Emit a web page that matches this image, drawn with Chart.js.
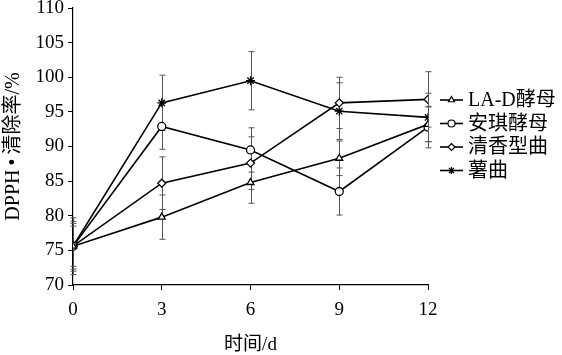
<!DOCTYPE html>
<html>
<head>
<meta charset="utf-8">
<script src="https://cdn.jsdelivr.net/npm/chart.js@4"></script>
<style>
html,body{margin:0;padding:0;background:#fff;}
#wrap{position:relative;width:562px;height:355px;}
</style>
</head>
<body>
<div id="wrap"><canvas id="c" width="562" height="355"></canvas></div>
<script>
const days = [0, 3, 6, 9, 12];
const seriesNames = ['LA-D酵母', '安琪酵母', '清香型曲', '薯曲'];
const laD   = [75.6, 79.8, 84.8, 88.3, 93.2];
const anqi  = [75.6, 92.9, 89.5, 83.5, 92.8];
const qxq   = [75.6, 84.7, 87.6, 96.3, 96.8];
const shuqu = [75.6, 96.3, 99.5, 95.1, 94.2];
const laDErr   = [3.3, 3.2, 3.0, 2.5, 2.5];
const anqiErr  = [3.6, 3.3, 3.2, 3.4, 3.0];
const qxqErr   = [2.9, 3.8, 3.8, 3.7, 4.0];
const shuquErr = [4.1, 4.0, 4.2, 4.1, 3.5];
const yTicks = [70, 75, 80, 85, 90, 95, 100, 105, 110];
const xTicks = [0, 3, 6, 9, 12];

const FONT = '"Liberation Serif", "Noto Sans CJK SC", serif';
const styles = ['triangle', 'circle', 'rectRot', 'star'];
const values = [laD, anqi, qxq, shuqu];
const errs = [laDErr, anqiErr, qxqErr, shuquErr];

const datasets = seriesNames.map((n, i) => ({
  label: n,
  data: days.map((d, j) => ({x: d, y: values[i][j]})),
  errors: errs[i],
  borderColor: '#000',
  backgroundColor: '#fff',
  borderWidth: 1.6,
  pointStyle: styles[i],
  pointRadius: i === 3 ? 4.5 : 4,
  pointBorderWidth: 1.3,
  pointBorderColor: '#000',
  pointBackgroundColor: '#fff',
  tension: 0,
  fill: false
}));

const errorBars = {
  id: 'errorBars',
  beforeDatasetsDraw(chart) {
    const {ctx, scales: {x, y}} = chart;
    ctx.save();
    ctx.strokeStyle = '#555';
    ctx.lineWidth = 1;
    chart.data.datasets.forEach(ds => {
      ds.data.forEach((p, j) => {
        const e = ds.errors[j];
        const px = Math.round(x.getPixelForValue(p.x)) + 0.5;
        const t = y.getPixelForValue(p.y + e);
        const b = y.getPixelForValue(p.y - e);
        ctx.beginPath();
        ctx.moveTo(px, t); ctx.lineTo(px, b);
        ctx.moveTo(px - 3, t); ctx.lineTo(px + 3, t);
        ctx.moveTo(px - 3, b); ctx.lineTo(px + 3, b);
        ctx.stroke();
      });
    });
    ctx.restore();
  }
};

const legendPlugin = {
  id: 'customLegend',
  afterDraw(chart) {
    const {ctx} = chart;
    ctx.save();
    const x0 = 440, x1 = 463, tx = 468;
    const rows = [100, 123.5, 147, 170.5];
    chart.data.datasets.forEach((ds, i) => {
      const yy = rows[i];
      ctx.strokeStyle = '#000';
      ctx.lineWidth = 1.6;
      ctx.beginPath();
      ctx.moveTo(x0, yy); ctx.lineTo(x1, yy); ctx.stroke();
      ctx.fillStyle = '#fff';
      ctx.lineWidth = 1.2;
      Chart.helpers.drawPoint(ctx, {pointStyle: ds.pointStyle, radius: 3.5, borderWidth: 1.2}, (x0 + x1) / 2, yy);
      ctx.fillStyle = '#000';
      ctx.font = '20px ' + FONT;
      ctx.textBaseline = 'middle';
      ctx.textAlign = 'left';
      ctx.fillText(ds.label, tx, yy + 1);
    });
    ctx.restore();
  }
};

new Chart(document.getElementById('c'), {
  type: 'line',
  data: {datasets},
  options: {
    responsive: false,
    animation: false,
    devicePixelRatio: 1,
    layout: {padding: {top: 8, right: 134, left: 0, bottom: 0}},
    plugins: {legend: {display: false}, tooltip: {enabled: false}},
    scales: {
      x: {
        type: 'linear', min: 0, max: 12,
        afterBuildTicks(s) { s.ticks = xTicks.map(v => ({value: v})); },
        afterFit(s) { s.height = 70; s.paddingLeft = 0; s.paddingRight = 0; },
        grid: {drawOnChartArea: false, drawTicks: true, tickLength: 5, color: '#000', lineWidth: 1},
        border: {display: true, color: '#000', width: 1.2},
        ticks: {color: '#000', font: {family: FONT, size: 19}, padding: 9, maxRotation: 0},
        title: {display: true, text: '时间/d', color: '#000', font: {family: FONT, size: 19, lineHeight: 1.0}, padding: {top: 4, bottom: 0}}
      },
      y: {
        type: 'linear', min: 70, max: 110,
        afterBuildTicks(s) { s.ticks = yTicks.map(v => ({value: v})); },
        afterFit(s) { s.width = 73; s.paddingTop = 0; s.paddingBottom = 0; },
        grid: {drawOnChartArea: false, drawTicks: true, tickLength: 5, color: '#000', lineWidth: 1},
        border: {display: true, color: '#000', width: 1.2},
        ticks: {color: '#000', font: {family: FONT, size: 19}, padding: 4},
        title: {display: true, text: 'DPPH\u2009•\u2009清除率/%', color: '#000', font: {family: FONT, size: 20}, padding: {top: 2, bottom: 0}}
      }
    }
  },
  plugins: [errorBars, legendPlugin]
});
</script>
</body>
</html>
